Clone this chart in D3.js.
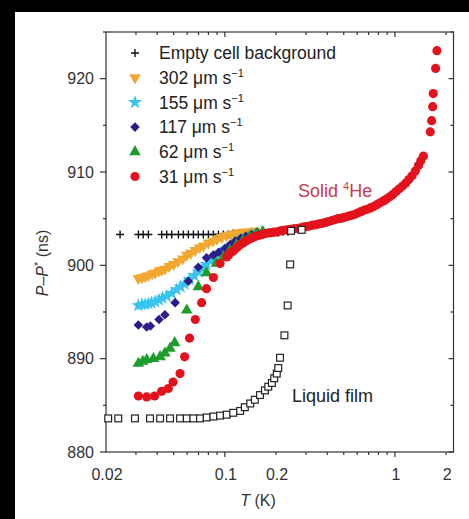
<!DOCTYPE html>
<html>
<head>
<meta charset="utf-8">
<script src="https://cdn.jsdelivr.net/npm/d3@7"></script>
<style>
  body { margin: 0; background: #fff; }
  svg text { font-family: "Liberation Sans", Arial, sans-serif; }
</style>
</head>
<body>
<svg id="chart" width="469" height="519"></svg>
<script>
// ---- data ----
const emptyT = [0.0242, 0.031, 0.0331, 0.0355, 0.0425, 0.0455, 0.0487, 0.0533, 0.057, 0.061, 0.0653, 0.0698, 0.0747, 0.080, 0.0856, 0.0916, 0.098, 0.105, 0.112, 0.12, 0.128, 0.137, 0.147, 0.157, 0.168, 0.18, 0.192, 0.205, 0.22, 0.235];
const emptyP = [903.3, 903.3, 903.3, 903.3, 903.3, 903.3, 903.3, 903.3, 903.3, 903.3, 903.3, 903.3, 903.3, 903.3, 903.3, 903.3, 903.3, 903.3, 903.4, 903.4, 903.4, 903.4, 903.4, 903.5, 903.5, 903.5, 903.5, 903.5, 903.6, 903.6];

const v302T = [0.031, 0.0325, 0.034, 0.0355, 0.0373, 0.039, 0.041, 0.0425, 0.0444, 0.047, 0.050, 0.053, 0.0565, 0.0597, 0.063, 0.067, 0.071, 0.075, 0.080, 0.085, 0.090, 0.096, 0.102, 0.108, 0.115, 0.122, 0.13, 0.14, 0.15];
const v302P = [898.6, 898.7, 898.8, 898.9, 899.1, 899.2, 899.4, 899.5, 899.6, 899.9, 900.1, 900.4, 900.7, 901.1, 901.3, 901.6, 901.9, 902.1, 902.4, 902.6, 902.8, 903.0, 903.2, 903.3, 903.4, 903.5, 903.6, 903.6, 903.7];

const v155T = [0.031, 0.0325, 0.034, 0.0355, 0.037, 0.039, 0.041, 0.043, 0.0455, 0.0487, 0.052, 0.055, 0.058, 0.062, 0.066, 0.070, 0.074, 0.078, 0.083, 0.088, 0.094, 0.100, 0.106, 0.112, 0.12, 0.128, 0.136, 0.145, 0.155, 0.165];
const v155P = [895.7, 895.8, 895.8, 895.9, 896.0, 896.1, 896.3, 896.5, 896.7, 897.0, 897.4, 897.7, 898.0, 898.5, 898.9, 899.3, 899.7, 900.1, 900.5, 900.9, 901.3, 901.6, 901.9, 902.2, 902.5, 902.8, 903.0, 903.2, 903.4, 903.5];

const v117T = [0.031, 0.0347, 0.0365, 0.041, 0.0444, 0.051, 0.061, 0.0698, 0.078, 0.0856, 0.092, 0.100, 0.107, 0.115, 0.124, 0.133, 0.143, 0.155, 0.168];
const v117P = [893.6, 893.4, 893.5, 894.2, 894.7, 896.0, 898.3, 899.8, 900.8, 901.1, 901.4, 901.8, 902.2, 902.6, 902.9, 903.1, 903.3, 903.5, 903.6];

const v62T = [0.031, 0.0329, 0.0347, 0.038, 0.0416, 0.0444, 0.0476, 0.0507, 0.0597, 0.0698, 0.078, 0.089, 0.098, 0.107, 0.117, 0.128, 0.14, 0.153, 0.167];
const v62P = [889.5, 889.7, 889.9, 890.0, 890.2, 890.6, 891.1, 891.7, 895.2, 897.7, 899.2, 900.2, 900.9, 901.6, 902.2, 902.7, 903.1, 903.4, 903.6];

const v31T = [0.031, 0.0347, 0.0386, 0.0425, 0.0465, 0.0496, 0.0545, 0.058, 0.062, 0.067, 0.073, 0.078, 0.0856, 0.0937, 0.1026,
  0.105, 0.109, 0.113, 0.118, 0.123, 0.128, 0.133, 0.139, 0.145, 0.151, 0.158, 0.165, 0.172, 0.179, 0.187, 0.195, 0.204, 0.213, 0.222, 0.232,
  0.242, 0.253, 0.264, 0.276, 0.288, 0.301, 0.314, 0.328, 0.343, 0.358, 0.374, 0.391, 0.408, 0.426, 0.445, 0.465, 0.486, 0.507, 0.53, 0.553,
  0.578, 0.603, 0.63, 0.658, 0.687, 0.718, 0.75, 0.783, 0.818, 0.854, 0.892, 0.932, 0.973, 1.016, 1.061, 1.108, 1.157, 1.208, 1.262, 1.318,
  1.376, 1.42, 1.47, 1.613, 1.644, 1.667, 1.68, 1.735, 1.766];
const v31P = [886.0, 885.9, 886.0, 886.5, 886.8, 887.5, 888.4, 890.2, 892.2, 894.2, 896.0, 897.5, 898.7, 900.2, 900.9,
  901.1, 901.4, 901.6, 901.9, 902.2, 902.4, 902.6, 902.8, 902.95, 903.1, 903.2, 903.3, 903.4, 903.45, 903.5, 903.55, 903.6, 903.7, 903.75, 903.8,
  903.85, 903.9, 903.95, 904.0, 904.1, 904.15, 904.2, 904.3, 904.35, 904.45, 904.5, 904.6, 904.7, 904.8, 904.9, 905.0, 905.05, 905.15, 905.25, 905.35,
  905.45, 905.6, 905.75, 905.9, 906.0, 906.15, 906.3, 906.5, 906.7, 906.9, 907.1, 907.35, 907.6, 907.9, 908.2, 908.5, 908.8, 909.2, 909.6, 910.1,
  910.7, 911.2, 911.7, 914.3, 915.5, 917.0, 918.4, 921.1, 923.0];

const liquidT = [0.0206, 0.0236, 0.0296, 0.0363, 0.0416, 0.0476, 0.0545, 0.0597, 0.0653, 0.0714, 0.0782, 0.0856, 0.0937, 0.1026, 0.112, 0.123,
  0.131, 0.141, 0.150, 0.161, 0.172, 0.180, 0.189, 0.195, 0.202, 0.206, 0.211, 0.224, 0.234, 0.242, 0.245, 0.283];
const liquidP = [883.6, 883.6, 883.6, 883.6, 883.6, 883.6, 883.6, 883.6, 883.6, 883.6, 883.7, 883.8, 883.9, 884.0, 884.2, 884.4,
  884.8, 885.2, 885.6, 886.1, 886.6, 887.0, 887.4, 887.9, 888.4, 889.0, 890.1, 892.5, 895.7, 900.1, 903.7, 903.8];

const xTickLabels = [0.02, 0.1, 0.2, 1, 2];
const yTickLabels = [880, 890, 900, 910, 920];

const legendLabels = ["Empty cell background", "302 \u03bcm s", "155 \u03bcm s", "117 \u03bcm s", "62 \u03bcm s", "31 \u03bcm s"];

// ---- layout ----
const svg = d3.select("#chart");
const plotL = 106, plotR = 453.5, plotT = 32, plotB = 452;
const axisColor = "#333";

const x = d3.scaleLog().domain([0.02, 2.21]).range([plotL, plotR]);
const y = d3.scaleLinear().domain([880, 925]).range([plotB, plotT]);

// black frame of the scanned figure
svg.append("rect").attr("x", 0).attr("y", 0).attr("width", 469).attr("height", 12).attr("fill", "#000");
svg.append("rect").attr("x", 0).attr("y", 0).attr("width", 15).attr("height", 519).attr("fill", "#000");

const minorX = [0.03, 0.04, 0.05, 0.06, 0.07, 0.08, 0.09, 0.2, 0.3, 0.4, 0.5, 0.6, 0.7, 0.8, 0.9, 2];
const majorX = [0.1, 1];
const minorY = [885, 895, 905, 915, 925];

const ax = svg.append("g").attr("stroke", axisColor).attr("stroke-width", 1.2);
// ticks: bottom/left outward, top/right inward
minorX.forEach(t => {
  ax.append("line").attr("x1", x(t)).attr("x2", x(t)).attr("y1", plotB).attr("y2", plotB + 3);
  ax.append("line").attr("x1", x(t)).attr("x2", x(t)).attr("y1", plotT).attr("y2", plotT + 3);
});
majorX.forEach(t => {
  ax.append("line").attr("x1", x(t)).attr("x2", x(t)).attr("y1", plotB).attr("y2", plotB + 5);
  ax.append("line").attr("x1", x(t)).attr("x2", x(t)).attr("y1", plotT).attr("y2", plotT + 5);
});
yTickLabels.forEach(v => {
  ax.append("line").attr("x1", plotL - 6).attr("x2", plotL).attr("y1", y(v)).attr("y2", y(v));
  ax.append("line").attr("x1", plotR - 5).attr("x2", plotR).attr("y1", y(v)).attr("y2", y(v));
});
minorY.forEach(v => {
  ax.append("line").attr("x1", plotL - 3).attr("x2", plotL).attr("y1", y(v)).attr("y2", y(v));
  ax.append("line").attr("x1", plotR - 3).attr("x2", plotR).attr("y1", y(v)).attr("y2", y(v));
});
ax.append("rect")
  .attr("x", plotL).attr("y", plotT)
  .attr("width", plotR - plotL).attr("height", plotB - plotT)
  .attr("fill", "none");

svg.append("g").selectAll("text")
  .data(xTickLabels).enter().append("text")
  .attr("x", d => x(d) + 1)
  .attr("y", 480)
  .attr("text-anchor", "middle")
  .attr("font-size", 16)
  .attr("fill", axisColor)
  .text(d => d);

svg.append("g").selectAll("text")
  .data(yTickLabels).enter().append("text")
  .attr("x", 94)
  .attr("y", d => y(d))
  .attr("dy", "0.36em")
  .attr("text-anchor", "end")
  .attr("font-size", 16)
  .attr("fill", axisColor)
  .text(d => d);

// axis titles
const xt = svg.append("text")
  .attr("x", 258).attr("y", 506)
  .attr("text-anchor", "middle").attr("font-size", 16).attr("fill", axisColor);
xt.append("tspan").attr("font-style", "italic").text("T");
xt.append("tspan").text(" (K)");

const yt = svg.append("text")
  .attr("transform", "translate(48,263) rotate(-90)")
  .attr("text-anchor", "middle").attr("font-size", 16).attr("fill", axisColor);
yt.append("tspan").attr("font-style", "italic").text("P");
yt.append("tspan").text("\u2013");
yt.append("tspan").attr("font-style", "italic").text("P");
yt.append("tspan").attr("dy", -6).attr("font-size", 11).text("*");
yt.append("tspan").attr("dy", 6).text(" (ns)");

// ---- markers ----
const colors = {
  c302: "#f0a830",
  c155: "#38c4ee",
  c117: "#2b1e8c",
  c62: "#1e9c2c",
  c31: "#e3121c"
};

const symDown = d3.symbol().type(d3.symbolTriangle).size(58)();
const symStar = d3.symbol().type(d3.symbolStar).size(62)();
const symDiamond = d3.symbol().type(d3.symbolSquare).size(46)();
const symUp = d3.symbol().type(d3.symbolTriangle).size(58)();
const symCircle = d3.symbol().type(d3.symbolCircle).size(66)();
const crossPath = "M-4,0H4M0,-4V4";

const zip = (ts, ps) => ts.map((t, i) => ({t, p: ps[i]}));

function drawSeries(data, path, color, rot) {
  svg.append("g").selectAll("path")
    .data(data).enter().append("path")
    .attr("d", path)
    .attr("transform", d => `translate(${x(d.t)},${y(d.p)}) rotate(${rot})`)
    .attr("fill", color);
}

// empty cell crosses
svg.append("g").selectAll("path")
  .data(zip(emptyT, emptyP)).enter().append("path")
  .attr("d", crossPath)
  .attr("transform", d => `translate(${x(d.t)},${y(d.p)})`)
  .attr("stroke", "#111").attr("stroke-width", 1.4);

drawSeries(zip(v302T, v302P), symDown, colors.c302, 180);
drawSeries(zip(v155T, v155P), symStar, colors.c155, 0);
drawSeries(zip(v117T, v117P), symDiamond, colors.c117, 45);
drawSeries(zip(v62T, v62P), symUp, colors.c62, 0);
drawSeries(zip(v31T, v31P), symCircle, colors.c31, 0);

// liquid film open squares
svg.append("g").selectAll("rect")
  .data(zip(liquidT, liquidP)).enter().append("rect")
  .attr("x", d => x(d.t) - 3.4).attr("y", d => y(d.p) - 3.4)
  .attr("width", 6.8).attr("height", 6.8)
  .attr("fill", "#fff").attr("stroke", "#222").attr("stroke-width", 1.2);

// ---- legend ----
const legendSyms = [null, [symDown, colors.c302, 180], [symStar, colors.c155, 0], [symDiamond, colors.c117, 45], [symUp, colors.c62, 0], [symCircle, colors.c31, 0]];
const lg = svg.append("g");
legendLabels.forEach((lab, i) => {
  const ly = 53 + i * 24.7;
  if (i === 0) {
    lg.append("path").attr("d", crossPath)
      .attr("transform", `translate(135,${ly})`)
      .attr("stroke", "#111").attr("stroke-width", 1.4);
  } else {
    const s = legendSyms[i];
    lg.append("path").attr("d", s[0]).attr("fill", s[1])
      .attr("transform", `translate(135,${ly}) rotate(${s[2]})`);
  }
  const t = lg.append("text")
    .attr("x", 159).attr("y", ly).attr("dy", "0.35em")
    .attr("font-size", 17.5).attr("fill", "#222");
  t.append("tspan").text(lab);
  if (i > 0) t.append("tspan").attr("dy", -7).attr("font-size", 11).text("\u22121");
});

// annotations
const solid = svg.append("text")
  .attr("x", 298).attr("y", 197)
  .attr("font-size", 18).attr("fill", "#c83a50");
solid.append("tspan").text("Solid ");
solid.append("tspan").attr("dy", -7).attr("font-size", 11).text("4");
solid.append("tspan").attr("dy", 7).text("He");

svg.append("text")
  .attr("x", 292).attr("y", 402)
  .attr("font-size", 18).attr("fill", "#222")
  .text("Liquid film");
</script>
</body>
</html>
